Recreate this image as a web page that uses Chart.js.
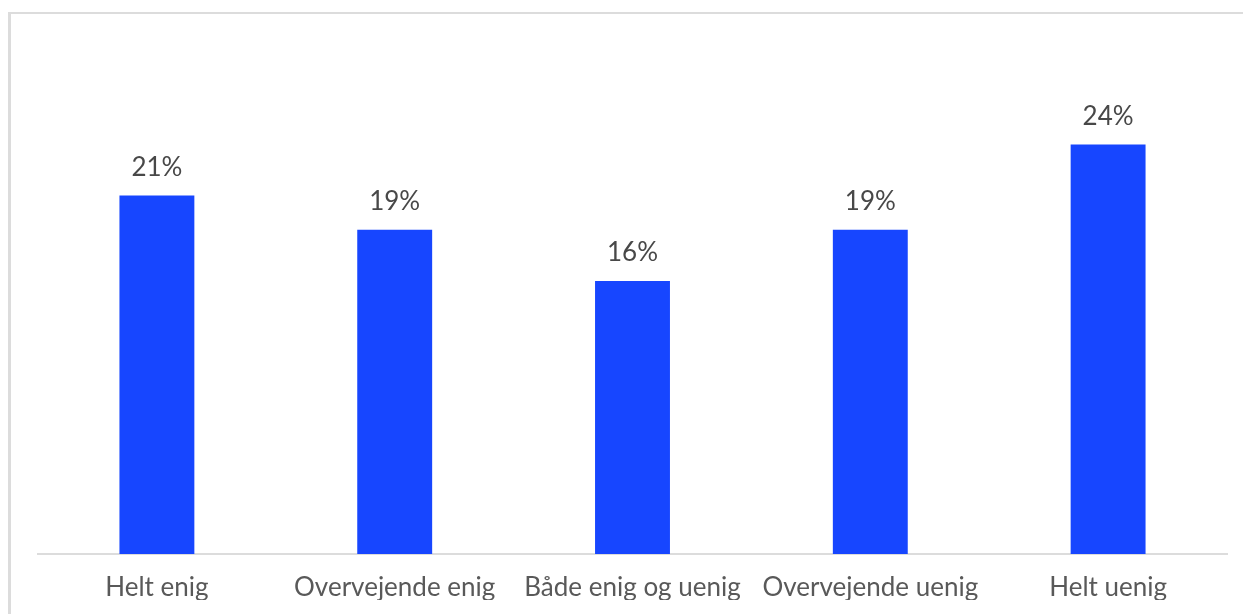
<!DOCTYPE html>
<html>
<head>
<meta charset="utf-8">
<script src="https://cdn.jsdelivr.net/npm/chart.js@4/dist/chart.umd.min.js"></script>
<style>
  html, body { margin: 0; padding: 0; background: #fff; overflow: hidden; }
  .frame { position: absolute; left: 8px; top: 12px; width: 1300px; height: 700px;
           border-top: 2px solid #dcdcdc; border-left: 3px solid #dcdcdc; }
  #wrap { position: absolute; left: 0; top: 0; width: 1243px; height: 614px; }
</style>
</head>
<body>
<div class="frame"></div>
<div id="wrap"><canvas id="answersChart"></canvas></div>
<script>
// Share of answers per category
const categories = ['Helt enig', 'Overvejende enig', 'Både enig og uenig', 'Overvejende uenig', 'Helt uenig'];
const shares = [21, 19, 16, 19, 24];

// Draws "21%" etc. above each bar
const valueLabels = {
    id: 'valueLabels',
    afterDatasetsDraw(chart) {
        const ctx = chart.ctx;
        ctx.save();
        ctx.font = '400 26px Lato, "Open Sans", sans-serif';
        ctx.fillStyle = '#484848';
        ctx.textAlign = 'center';
        ctx.textBaseline = 'bottom';
        chart.getDatasetMeta(0).data.forEach((bar, i) => {
            ctx.fillText(shares[i] + '%', bar.x, bar.y - 15);
        });
        ctx.restore();
    }
};

function initAnswersChart() {
    const ctx = document.getElementById('answersChart').getContext('2d');
    new Chart(ctx, {
        type: 'bar',
        data: {
            labels: categories,
            datasets: [{
                data: shares,
                backgroundColor: '#1746ff',
                categoryPercentage: 1,
                barPercentage: 0.315
            }]
        },
        options: {
            responsive: true,
            maintainAspectRatio: false,
            animation: false,
            layout: { padding: { left: 38, right: 16, top: 42, bottom: 14 } },
            plugins: {
                legend: { display: false },
                tooltip: { enabled: false }
            },
            scales: {
                x: {
                    grid: { display: false },
                    border: { display: true, color: '#dcdcdc', width: 2 },
                    afterFit: (scale) => { scale.height = 46; },
                    ticks: {
                        color: '#595959',
                        padding: 10,
                        font: { family: 'Lato, "Open Sans", sans-serif', size: 26 },
                        maxRotation: 0,
                        autoSkip: false
                    }
                },
                y: { display: false, min: 0, max: 30 }
            }
        },
        plugins: [valueLabels]
    });
}

document.addEventListener('DOMContentLoaded', () => {
    initAnswersChart();
});
</script>
</body>
</html>
